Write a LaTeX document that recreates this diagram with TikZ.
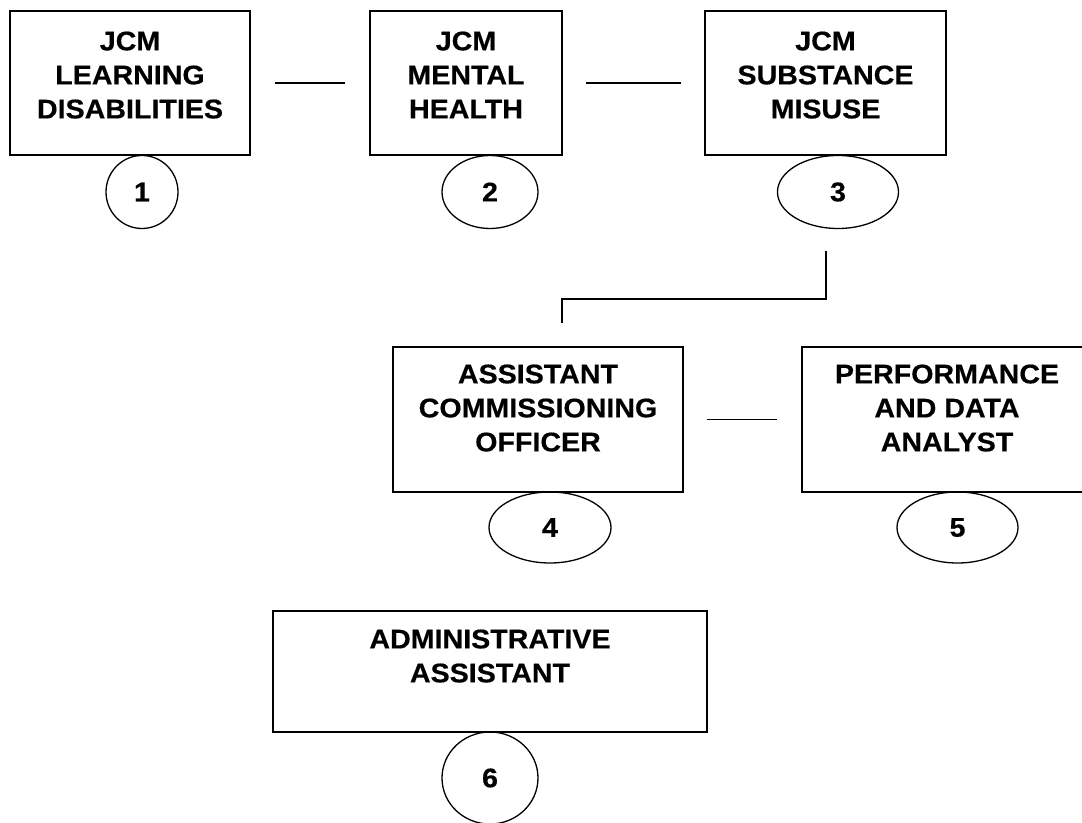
\documentclass[tikz,border=0pt]{standalone}
\usepackage{fontspec}
\setmainfont{Liberation Sans}[FakeStretch=1.06, BoldFeatures={FakeBold=0.4}]
\usetikzlibrary{positioning, shapes.geometric}

\begin{document}
\begin{tikzpicture}[
  x=0.5pt, y=-0.5pt,
  unit/.style={draw, line width=0.9pt, minimum height=72pt, inner sep=0pt},
  unittext/.style={font=\bfseries\fontsize{13.5}{17}\selectfont, align=center, inner sep=0pt, anchor=north},
  badge/.style={draw, ellipse, line width=0.65pt, inner sep=0pt, minimum height=36.5pt, font=\bfseries\fontsize{13.5}{17}\selectfont},
  link/.style={line width=0.85pt, shorten <=11.5pt, shorten >=11.5pt}
]
\useasboundingbox (0,0) rectangle (1082,823);

% Top row: joint commissioning managers
\node[unit, minimum width=120pt] (ld) at (130,83) {};
\node[unittext, below=10.5pt of ld.north] {JCM\\LEARNING\\DISABILITIES};
\node[badge, minimum width=36pt] (ld-no) at (142,192) {1};

\node[unit, minimum width=96pt] (mh) at (466,83) {};
\node[unittext, below=10.5pt of mh.north] {JCM\\MENTAL\\HEALTH};
\node[badge, minimum width=48pt] (mh-no) at (490,192) {2};

\node[unit, minimum width=120.5pt] (sm) at (825.5,83) {};
\node[unittext, below=10.5pt of sm.north] {JCM\\SUBSTANCE\\MISUSE};
\node[badge, minimum width=60.5pt] (sm-no) at (838,192) {3};

\draw[link, shorten <=12pt, shorten >=12pt] (ld) -- (mh);
\draw[link] (mh) -- (sm);

% Middle row
\node[unit, minimum width=145pt, minimum height=72.5pt] (aco) at (538,419.5) {};
\node[unittext, below=9pt of aco.north] {ASSISTANT\\COMMISSIONING\\OFFICER};
\node[badge, minimum width=61pt, minimum height=35.5pt] (aco-no) at (550,527.5) {4};

\node[unit, minimum width=145pt, minimum height=72.5pt] (pda) at (947,419.5) {};
\node[unittext, below=9pt of pda.north] {PERFORMANCE\\AND DATA\\ANALYST};
\node[badge, minimum width=60.5pt, minimum height=35.5pt] (pda-no) at (957.5,527.5) {5};

\draw[link, shorten >=12pt] (aco) -- (pda);

% Link down from substance misuse
\coordinate (drop) at (826,251);
\coordinate (bend) at (562,299);
\draw[link, shorten <=0pt] (drop) |- (bend) -- (bend |- aco.north);

% Bottom row
\node[unit, minimum width=217pt, minimum height=60.5pt] (adm) at (490,671.5) {};
\node[unittext, below=9.5pt of adm.north] {ADMINISTRATIVE\\ASSISTANT};
\node[badge, minimum width=48pt, minimum height=46pt] (adm-no) at (490,778) {6};

\end{tikzpicture}
\end{document}
